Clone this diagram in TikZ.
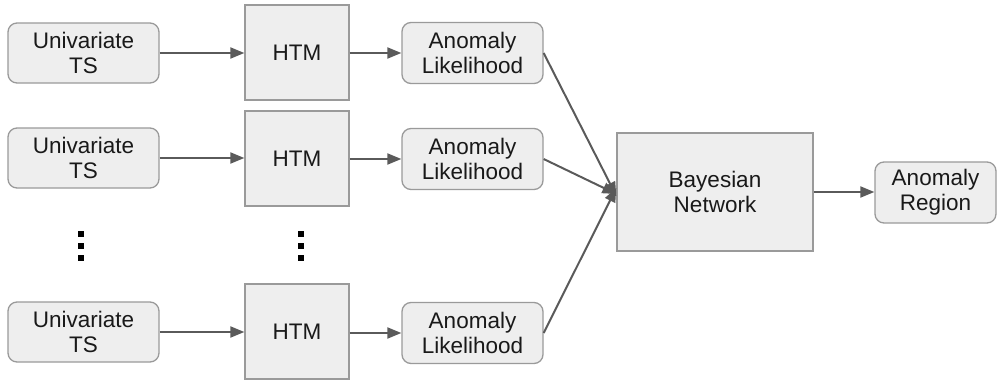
\documentclass[tikz,border=0pt]{standalone}
\usepackage{fontspec}
\setmainfont{Liberation Sans}
\usetikzlibrary{arrows.meta}
\definecolor{boxfill}{HTML}{EEEEEE}
\definecolor{boxline}{HTML}{9A9A9A}
\definecolor{arrowc}{HTML}{5A5A5A}
\begin{document}
\begin{tikzpicture}[x=1pt,y=-1pt,
  base/.style={draw=boxline, fill=boxfill, line width=1.3pt, inner sep=0pt,
    align=center, font=\fontsize{22.5}{25}\selectfont, text=black!90},
  roundbox/.style={base, rounded corners=9pt},
  sqbox/.style={base},
  conn/.style={draw=arrowc, line width=2pt, -{Triangle[length=14pt,width=11pt]}},
  vdots/.style={fill=black, minimum size=5.5pt, inner sep=0pt}
]
\useasboundingbox (0,0) rectangle (997,380);
% Univariate TS
\node[roundbox, minimum width=151pt, minimum height=60pt] (u1) at (83.5,53) {Univariate\\TS};
\node[roundbox, minimum width=151pt, minimum height=60pt] (u2) at (83.5,158) {Univariate\\TS};
\node[roundbox, minimum width=151pt, minimum height=60pt] (u3) at (83.5,332) {Univariate\\TS};
% HTM
\node[sqbox, minimum width=104pt, minimum height=95pt] (h1) at (297,52.5) {HTM};
\node[sqbox, minimum width=104pt, minimum height=95pt] (h2) at (297,158.5) {HTM};
\node[sqbox, minimum width=104pt, minimum height=95pt] (h3) at (297,331.5) {HTM};
% Anomaly Likelihood
\node[roundbox, minimum width=141pt, minimum height=61pt] (a1) at (472.5,53) {Anomaly\\Likelihood};
\node[roundbox, minimum width=141pt, minimum height=61pt] (a2) at (472.5,159) {Anomaly\\Likelihood};
\node[roundbox, minimum width=141pt, minimum height=61pt] (a3) at (472.5,333) {Anomaly\\Likelihood};
% Bayesian Network
\node[sqbox, minimum width=196pt, minimum height=118pt] (bn) at (715,192) {Bayesian\\Network};
% Anomaly Region
\node[roundbox, minimum width=121pt, minimum height=61pt] (ar) at (935.5,192.5) {Anomaly\\Region};
% dots
\node[vdots] (d1a) at (81,234) {};
\node[vdots] (d1b) at (81,246) {};
\node[vdots] (d1c) at (81,258) {};
\node[vdots] (d2a) at (301,234) {};
\node[vdots] (d2b) at (301,246) {};
\node[vdots] (d2c) at (301,258) {};
% connectors
\draw[conn] (u1.east) -- (h1.west |- u1.east);
\draw[conn] (u2.east) -- (h2.west |- u2.east);
\draw[conn] (u3.east) -- (h3.west |- u3.east);
\draw[conn] (h1.east |- a1.west) -- (a1.west);
\draw[conn] (h2.east |- a2.west) -- (a2.west);
\draw[conn] (h3.east |- a3.west) -- (a3.west);
\coordinate (t1) at ([yshift=-4pt]bn.west);
\coordinate (t2) at ([yshift=-2pt]bn.west);
\coordinate (t3) at ([yshift=4pt]bn.west);
\draw[conn] (a1.east) -- (t1);
\draw[conn] (a2.east) -- (t2);
\draw[conn] (a3.east) -- (t3);
\draw[conn] (bn.east) -- (ar.west |- bn.east);
\end{tikzpicture}
\end{document}
